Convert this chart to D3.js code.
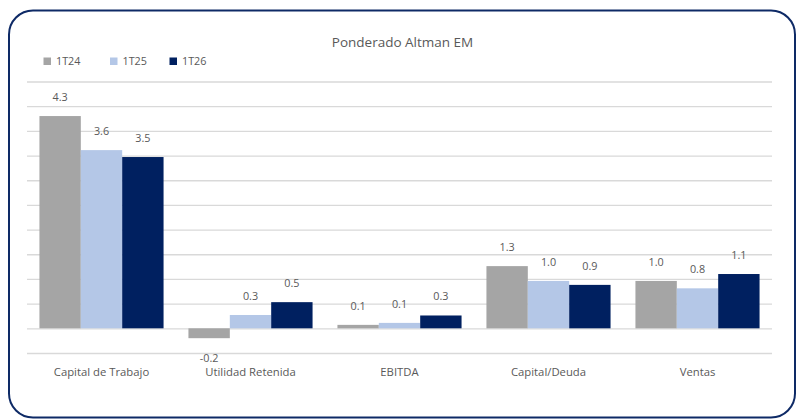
<!DOCTYPE html>
<html>
<head>
<meta charset="utf-8">
<script src="https://cdn.jsdelivr.net/npm/d3@7"></script>
<style>
  body { margin: 0; background: #fff; }
  text { font-family: "Open Sans", Lato, sans-serif; fill: #595959; }
</style>
</head>
<body>
<div id="chart"></div>
<script>
// Chart data.
var categories = ["Capital de Trabajo", "Utilidad Retenida", "EBITDA", "Capital/Deuda", "Ventas"];
var seriesNames = ["1T24", "1T25", "1T26"];
var values1T24 = [4.30, -0.20, 0.07, 1.26, 0.96];
var values1T25 = [3.61, 0.27, 0.11, 0.96, 0.81];
var values1T26 = [3.47, 0.53, 0.26, 0.88, 1.10];
var yTicks = [-0.5, 0, 0.5, 1, 1.5, 2, 2.5, 3, 3.5, 4, 4.5, 5];

var seriesValues = [values1T24, values1T25, values1T26];
var colors = ["#a5a5a5", "#b4c7e7", "#002060"];

var svgWidth = 804;
var svgHeight = 419;

var margin = ({ top: 81.5, right: 32, bottom: 66, left: 27 });
var width = svgWidth - margin.left - margin.right;
var height = svgHeight - margin.top - margin.bottom;

var svg = d3.select("#chart").append("svg")
  .attr("width", svgWidth)
  .attr("height", svgHeight);

// Rounded outer frame.
svg.append("rect")
  .attr("x", 9)
  .attr("y", 10.5)
  .attr("width", 786)
  .attr("height", 407)
  .attr("rx", 24)
  .attr("fill", "#fff")
  .attr("stroke", "#0e2a66")
  .attr("stroke-width", 2);

// Title.
svg.append("text")
  .attr("x", 402.5)
  .attr("y", 47)
  .style("text-anchor", "middle")
  .style("font-size", "13.5px")
  .text("Ponderado Altman EM");

// Legend.
var legendX = [43.5, 110, 169.5];
var legend = svg.selectAll(".legend_item")
  .data(seriesNames)
  .enter().append("g")
  .attr("class", "legend_item")
  .attr("transform", function(d, i) { return "translate(" + legendX[i] + ", 57.5)"; });

legend.append("rect")
  .attr("width", 7.5)
  .attr("height", 7.5)
  .attr("fill", function(d, i) { return colors[i]; });

legend.append("text")
  .attr("x", 12.5)
  .attr("y", 7.5)
  .style("font-size", "10.8px")
  .text(function(d) { return d; });

var g = svg.append("g")
  .attr("transform", "translate(" + margin.left + ", " + margin.top + ")");

// Scales.
var xScale = d3.scaleBand()
  .domain(categories)
  .range([0, width])
  .paddingInner(0.167)
  .paddingOuter(0.0835);

var xInner = d3.scaleBand()
  .domain(d3.range(seriesNames.length))
  .range([0, xScale.bandwidth()]);

var yScale = d3.scaleLinear()
  .domain([-0.5, 5])
  .range([height, 0]);

// Gridlines.
g.append("g")
  .attr("class", "grid")
  .call(d3.axisLeft(yScale).tickValues(yTicks).tickSize(-width).tickFormat(""))
  .call(function(s) {
    s.select(".domain").remove();
    s.selectAll(".tick line").attr("stroke", "#d9d9d9").attr("stroke-width", 1.3);
  });

// Bars.
var groups = g.selectAll(".cat")
  .data(categories)
  .enter().append("g")
  .attr("class", "cat")
  .attr("transform", function(d) { return "translate(" + xScale(d) + ", 0)"; });

var cells = groups.selectAll(".bar")
  .data(function(d, ci) {
    return seriesValues.map(function(vals, si) { return { series: si, value: vals[ci] }; });
  })
  .enter();

cells.append("rect")
  .attr("class", "bar")
  .attr("x", function(d) { return xInner(d.series); })
  .attr("width", xInner.bandwidth())
  .attr("y", function(d) { return yScale(Math.max(0, d.value)); })
  .attr("height", function(d) { return Math.abs(yScale(d.value) - yScale(0)); })
  .attr("fill", function(d) { return colors[d.series]; });

// Value labels, negative ones go under the bar.
cells.append("text")
  .attr("x", function(d) { return xInner(d.series) + xInner.bandwidth() / 2; })
  .attr("y", function(d) {
    return d.value >= 0 ? yScale(d.value) - 15 : yScale(d.value) + 23.5;
  })
  .style("text-anchor", "middle")
  .style("font-size", "10.8px")
  .text(function(d) { return d.value.toFixed(1); });

// Category labels.
g.append("g")
  .attr("transform", "translate(0, " + (height + 22.5) + ")")
  .selectAll("text")
  .data(categories)
  .enter().append("text")
  .attr("x", function(d) { return xScale(d) + xScale.bandwidth() / 2; })
  .style("text-anchor", "middle")
  .style("font-size", "11.3px")
  .text(function(d) { return d; });
</script>
</body>
</html>
